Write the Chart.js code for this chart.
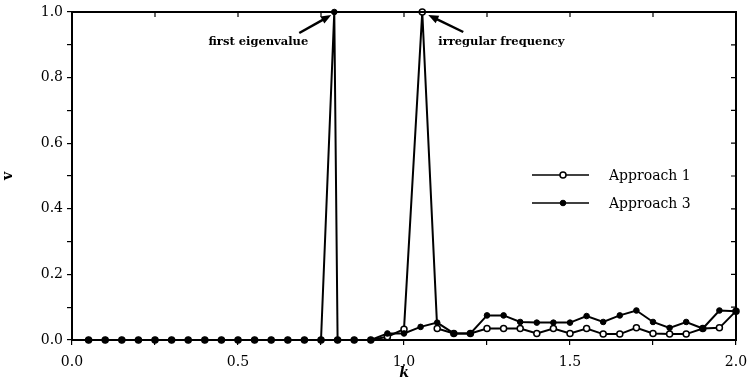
<!DOCTYPE html>
<html>
<head>
<meta charset="utf-8">
<script src="https://cdn.jsdelivr.net/npm/chart.js@4/dist/chart.umd.min.js"></script>
<style>
  html, body { margin: 0; padding: 0; background: #fff; }
  #wrap { width: 749px; height: 383px; }
</style>
</head>
<body>
<div id="wrap"><canvas id="myChart" width="749" height="383"></canvas></div>
<script>
// data
const kApproach1 = [0.05, 0.10, 0.15, 0.20, 0.25, 0.30, 0.35, 0.40, 0.45, 0.50,
  0.55, 0.60, 0.65, 0.70, 0.75, 0.80, 0.85, 0.90, 0.95, 1.00, 1.055, 1.10,
  1.15, 1.20, 1.25, 1.30, 1.35, 1.40, 1.45, 1.50, 1.55, 1.60, 1.65, 1.70,
  1.75, 1.80, 1.85, 1.90, 1.95, 2.00];
const vApproach1 = [0, 0, 0, 0, 0, 0, 0, 0, 0, 0,
  0, 0, 0, 0, 0, 0, 0, 0, 0.01, 0.033, 1.0, 0.035,
  0.02, 0.02, 0.035, 0.035, 0.035, 0.02, 0.035, 0.02, 0.035, 0.018, 0.018, 0.037,
  0.02, 0.018, 0.018, 0.035, 0.037, 0.088];

const kApproach3 = [0.05, 0.10, 0.15, 0.20, 0.25, 0.30, 0.35, 0.40, 0.45, 0.50,
  0.55, 0.60, 0.65, 0.70, 0.75, 0.79, 0.80, 0.85, 0.90, 0.95, 1.00, 1.05, 1.10,
  1.15, 1.20, 1.25, 1.30, 1.35, 1.40, 1.45, 1.50, 1.55, 1.60, 1.65, 1.70,
  1.75, 1.80, 1.85, 1.90, 1.95, 2.00];
const vApproach3 = [0, 0, 0, 0, 0, 0, 0, 0, 0, 0,
  0, 0, 0, 0, 0, 1.0, 0, 0, 0, 0.02, 0.02, 0.04, 0.053,
  0.02, 0.02, 0.075, 0.075, 0.055, 0.053, 0.053, 0.053, 0.073, 0.055, 0.075, 0.09,
  0.055, 0.037, 0.055, 0.035, 0.09, 0.088];

// tick positions and which of them get a label
const xTickValues = [0, 0.25, 0.5, 0.75, 1.0, 1.25, 1.5, 1.75, 2.0];
const xTickLabels = ['0.0', '', '0.5', '', '1.0', '', '1.5', '', '2.0'];
const yTickValues = [0, 0.1, 0.2, 0.3, 0.4, 0.5, 0.6, 0.7, 0.8, 0.9, 1.0];
const yTickLabels = ['0.0', '', '0.2', '', '0.4', '', '0.6', '', '0.8', '', '1.0'];

const seriesNames = ['Approach 1', 'Approach 3'];
const annotationTexts = ['first eigenvalue', 'irregular frequency'];

function toPoints(ks, vs) {
  return ks.map((k, i) => ({ x: k, y: vs[i] }));
}

const FONT = '"DejaVu Serif", "Liberation Serif", serif';

// box around the plot + inner ticks on top and right
const framePlugin = {
  id: 'frame',
  afterDatasetsDraw: (chart) => {
    const ctx = chart.ctx;
    const a = chart.chartArea;
    ctx.save();
    ctx.strokeStyle = '#000';
    ctx.lineWidth = 2;
    ctx.strokeRect(a.left, a.top, a.right - a.left, a.bottom - a.top);
    ctx.lineWidth = 1.2;
    ctx.beginPath();
    xTickValues.forEach(v => {
      const x = chart.scales.x.getPixelForValue(v);
      ctx.moveTo(x, a.top);
      ctx.lineTo(x, a.top + 5);
    });
    yTickValues.forEach(v => {
      const y = chart.scales.y.getPixelForValue(v);
      ctx.moveTo(a.right, y);
      ctx.lineTo(a.right - 5, y);
    });
    ctx.stroke();
    ctx.restore();
  }
};

// legend drawn inside the plot, on the right
const insideLegendPlugin = {
  id: 'insideLegend',
  afterDraw: (chart) => {
    const ctx = chart.ctx;
    const a = chart.chartArea;
    ctx.save();
    seriesNames.forEach((name, i) => {
      const ds = chart.data.datasets[i];
      const y = a.top + 163 + i * 28;
      const x0 = a.right - 204;
      ctx.strokeStyle = '#000';
      ctx.lineWidth = 1.5;
      ctx.beginPath();
      ctx.moveTo(x0, y);
      ctx.lineTo(x0 + 57, y);
      ctx.stroke();
      ctx.beginPath();
      ctx.arc(x0 + 31, y, ds.pointRadius, 0, Math.PI * 2);
      ctx.fillStyle = ds.pointBackgroundColor;
      ctx.fill();
      ctx.lineWidth = ds.pointBorderWidth;
      ctx.stroke();
      ctx.fillStyle = '#000';
      ctx.font = '14px ' + FONT;
      ctx.textAlign = 'left';
      ctx.textBaseline = 'middle';
      ctx.fillText(name, a.right - 127, y + 1);
    });
    ctx.restore();
  }
};

// arrows + text pointing at the two peaks
function drawArrow(ctx, x1, y1, x2, y2) {
  const ang = Math.atan2(y2 - y1, x2 - x1);
  const head = 11;
  ctx.beginPath();
  ctx.moveTo(x1, y1);
  ctx.lineTo(x2 - Math.cos(ang) * head * 0.8, y2 - Math.sin(ang) * head * 0.8);
  ctx.stroke();
  ctx.beginPath();
  ctx.moveTo(x2, y2);
  ctx.lineTo(x2 - head * Math.cos(ang - 0.38), y2 - head * Math.sin(ang - 0.38));
  ctx.lineTo(x2 - head * Math.cos(ang + 0.38), y2 - head * Math.sin(ang + 0.38));
  ctx.closePath();
  ctx.fill();
}

const annotationPlugin = {
  id: 'peakNotes',
  afterDraw: (chart) => {
    const ctx = chart.ctx;
    const sx = chart.scales.x, sy = chart.scales.y;
    const i3 = vApproach3.indexOf(Math.max(...vApproach3));
    const i1 = vApproach1.indexOf(Math.max(...vApproach1));
    const p3 = { x: sx.getPixelForValue(kApproach3[i3]), y: sy.getPixelForValue(vApproach3[i3]) };
    const p1 = { x: sx.getPixelForValue(kApproach1[i1]), y: sy.getPixelForValue(vApproach1[i1]) };
    ctx.save();
    ctx.fillStyle = '#000';
    ctx.strokeStyle = '#000';
    ctx.lineWidth = 2.5;
    ctx.font = 'bold 11.5px ' + FONT;
    ctx.textBaseline = 'middle';
    ctx.textAlign = 'right';
    ctx.fillText(annotationTexts[0], p3.x - 26, p3.y + 30);
    drawArrow(ctx, p3.x - 35, p3.y + 21, p3.x - 3, p3.y + 3);
    ctx.textAlign = 'left';
    ctx.fillText(annotationTexts[1], p1.x + 16, p1.y + 30);
    drawArrow(ctx, p1.x + 41, p1.y + 20, p1.x + 6, p1.y + 3);
    ctx.restore();
  }
};

const chartData = {
  datasets: [
    {
      label: seriesNames[0],
      data: toPoints(kApproach1, vApproach1),
      borderColor: '#000',
      borderWidth: 2,
      pointRadius: 3,
      pointBorderWidth: 1.5,
      pointBackgroundColor: '#fff',
      pointBorderColor: '#000',
      order: 1
    },
    {
      label: seriesNames[1],
      data: toPoints(kApproach3, vApproach3),
      borderColor: '#000',
      borderWidth: 2,
      pointRadius: 2.8,
      pointBorderWidth: 1,
      pointBackgroundColor: '#000',
      pointBorderColor: '#000',
      order: 0
    }
  ]
};

const config = {
  type: 'line',
  data: chartData,
  options: {
    responsive: false,
    animation: false,
    clip: false,
    layout: { padding: { top: 12, right: 13, left: 0, bottom: 0 } },
    plugins: {
      legend: { display: false },
      tooltip: { enabled: false }
    },
    scales: {
      x: {
        type: 'linear',
        min: 0,
        max: 2,
        afterBuildTicks: (scale) => { scale.ticks = xTickValues.map(v => ({ value: v })); },
        afterFit: (scale) => {
          scale.height = 43;
          scale.paddingLeft = 0;
          scale.paddingRight = 0;
        },
        ticks: {
          autoSkip: false,
          maxRotation: 0,
          padding: 9,
          color: '#000',
          font: { family: FONT, size: 14 },
          callback: (value, index) => xTickLabels[index]
        },
        grid: { drawOnChartArea: false, color: '#000', tickLength: 5, lineWidth: 1.2 },
        border: { color: '#000', width: 2 },
        title: {
          display: true,
          text: 'k',
          color: '#000',
          padding: { top: 0, bottom: 1 },
          font: { family: FONT, size: 14, weight: 'bold', style: 'italic' }
        }
      },
      y: {
        min: 0,
        max: 1,
        afterBuildTicks: (scale) => { scale.ticks = yTickValues.map(v => ({ value: v })); },
        afterFit: (scale) => {
          scale.width = 72;
          scale.paddingTop = 0;
          scale.paddingBottom = 0;
        },
        ticks: {
          autoSkip: false,
          padding: 4,
          color: '#000',
          font: { family: FONT, size: 14 },
          callback: (value, index) => yTickLabels[index]
        },
        grid: { drawOnChartArea: false, color: '#000', tickLength: 5, lineWidth: 1.2 },
        border: { color: '#000', width: 2 },
        title: {
          display: true,
          text: 'v',
          color: '#000',
          padding: { top: 0, bottom: 0 },
          font: { family: FONT, size: 14, weight: 'bold' }
        }
      }
    }
  },
  plugins: [framePlugin, insideLegendPlugin, annotationPlugin]
};

let chart;

function createChart() {
  const ctx = document.getElementById('myChart').getContext('2d');
  if (chart) {
    chart.destroy();
  }
  chart = new Chart(ctx, config);
}

createChart();
</script>
</body>
</html>
